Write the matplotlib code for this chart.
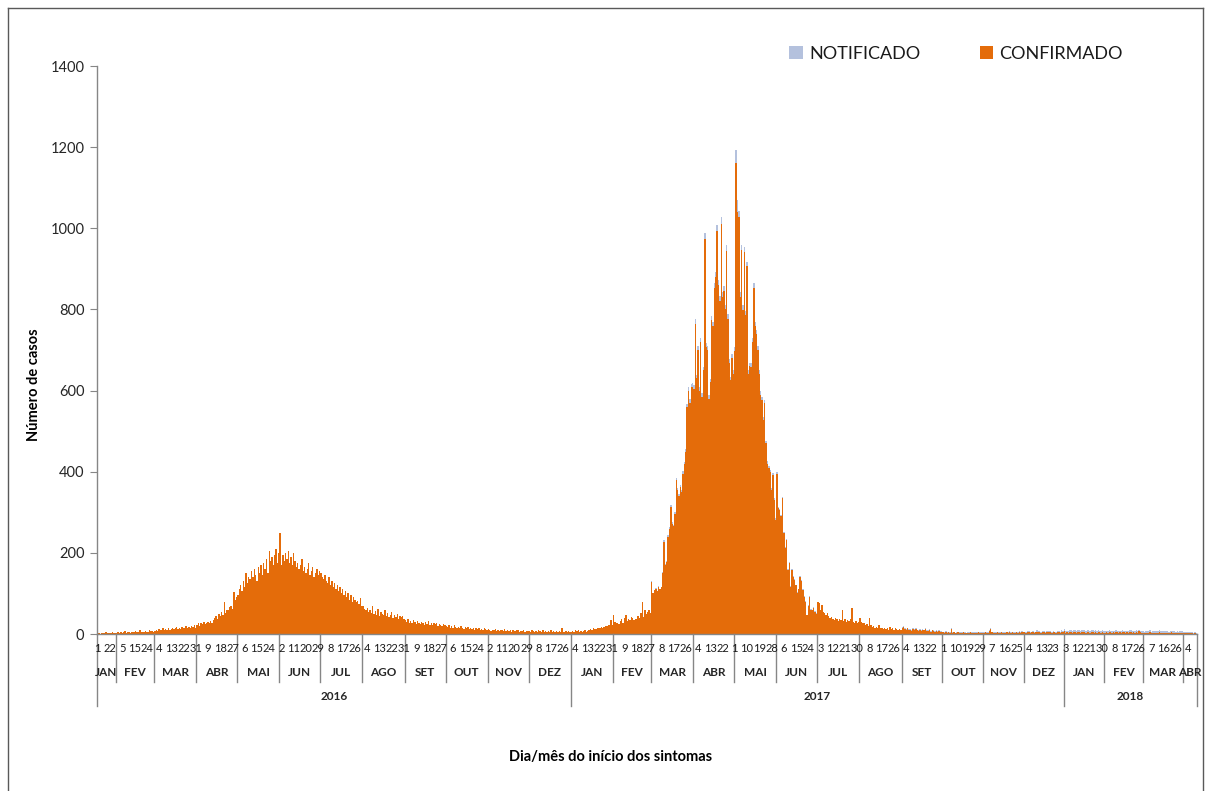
import matplotlib
matplotlib.use('Agg')
import matplotlib.pyplot as plt
import matplotlib.transforms as mtransforms
from matplotlib.lines import Line2D
import pandas as pd

plt.rcParams['font.family'] = ['Lato', 'DejaVu Sans']

# Daily confirmed cases, one list per month
jan_2016 = [2, 3, 1, 2, 3, 2, 4, 2, 3, 2, 3, 4, 3, 2]
feb_2016 = [3, 4, 2, 5, 3, 4, 8, 3, 4, 5, 3, 6, 4, 5, 7, 4, 5, 9, 5, 6, 4, 8, 6, 5, 10, 7, 8, 6]
mar_2016 = [8, 10, 7, 12, 9, 11, 14, 10, 12, 9, 15, 11, 13, 16, 12, 14, 18, 13, 15, 12, 17, 14, 16, 19, 15, 18, 14, 20, 17, 22, 16]
apr_2016 = [22, 26, 20, 28, 25, 30, 24, 27, 29, 26, 32, 28, 35, 40, 45, 38, 50, 44, 55, 48, 80, 52, 60, 58, 66, 70, 62, 104, 85, 90]
may_2016 = [95, 110, 120, 105, 130, 115, 150, 125, 140, 135, 155, 140, 160, 145, 130, 165, 150, 170, 145, 175, 160, 185, 150, 205, 180, 190, 170, 195, 210, 175, 200]
jun_2016 = [250, 170, 195, 180, 200, 185, 205, 175, 190, 170, 200, 180, 165, 175, 160, 170, 185, 155, 165, 150, 160, 175, 145, 155, 165, 140, 150, 160, 145, 155]
jul_2016 = [150, 140, 135, 145, 130, 125, 140, 120, 130, 115, 125, 110, 120, 105, 115, 100, 110, 95, 105, 90, 100, 85, 95, 80, 90, 85, 78, 82, 75, 88, 70]
aug_2016 = [70, 62, 58, 65, 55, 60, 52, 68, 50, 57, 48, 62, 45, 55, 50, 47, 58, 44, 52, 42, 48, 55, 40, 46, 43, 50, 38, 45, 41, 44, 36]
sep_2016 = [35, 30, 38, 28, 32, 26, 34, 30, 25, 33, 28, 24, 30, 27, 22, 29, 25, 32, 23, 27, 21, 26, 24, 28, 20, 25, 22, 19, 24, 21]
oct_2016 = [20, 18, 22, 16, 19, 15, 21, 17, 14, 18, 16, 20, 15, 13, 17, 14, 18, 12, 16, 13, 15, 11, 14, 12, 16, 10, 13, 11, 14, 12, 10]
nov_2016 = [12, 10, 8, 11, 9, 13, 8, 10, 7, 11, 9, 8, 12, 7, 10, 8, 9, 6, 11, 8, 7, 9, 10, 6, 8, 7, 9, 6, 8, 7]
dec_2016 = [8, 6, 9, 7, 5, 8, 6, 10, 7, 5, 9, 6, 8, 5, 7, 6, 9, 5, 7, 6, 8, 5, 7, 6, 14, 6, 5, 8, 6, 7, 5]

jan_2017 = [6, 8, 5, 10, 7, 9, 6, 8, 5, 7, 9, 6, 8, 10, 12, 11, 14, 13, 12, 15, 14, 16, 18, 15, 17, 20, 19, 23, 21, 34, 22]
feb_2017 = [48, 30, 26, 28, 25, 32, 36, 28, 40, 48, 33, 38, 35, 42, 40, 34, 38, 36, 45, 40, 52, 80, 42, 60, 50, 54, 58, 52]
mar_2017 = [129, 100, 108, 112, 105, 117, 110, 115, 150, 227, 170, 178, 240, 260, 313, 272, 265, 297, 379, 354, 340, 362, 350, 395, 420, 448, 559, 600, 570, 608, 610]
apr_2017 = [605, 765, 630, 700, 600, 719, 584, 650, 973, 707, 700, 580, 620, 773, 760, 854, 879, 994, 860, 822, 1011, 830, 846, 800, 944, 777, 669, 625, 681, 642]
may_2017 = [698, 1160, 1040, 1028, 831, 947, 799, 942, 786, 906, 642, 660, 659, 720, 853, 760, 740, 700, 642, 590, 576, 527, 569, 470, 420, 410, 400, 354, 392, 330, 281]
jun_2017 = [395, 310, 305, 290, 334, 248, 211, 231, 158, 175, 117, 158, 141, 133, 120, 101, 110, 141, 130, 108, 92, 80, 47, 70, 92, 60, 59, 65, 55, 50]
jul_2017 = [79, 76, 60, 71, 55, 51, 48, 51, 45, 40, 42, 38, 34, 40, 36, 32, 38, 35, 59, 33, 36, 30, 34, 31, 38, 63, 30, 28, 33, 26, 30]
aug_2017 = [40, 30, 26, 28, 22, 25, 20, 39, 22, 18, 20, 16, 18, 15, 22, 14, 16, 13, 15, 12, 14, 11, 18, 12, 15, 11, 14, 12, 10, 13, 11]
sep_2017 = [15, 18, 12, 10, 14, 9, 11, 8, 13, 10, 12, 9, 8, 11, 7, 10, 9, 12, 8, 7, 10, 6, 9, 8, 6, 7, 5, 8, 6, 5]
oct_2017 = [4, 3, 5, 3, 4, 2, 12, 3, 4, 2, 3, 4, 2, 3, 2, 4, 3, 2, 3, 2, 4, 2, 3, 2, 3, 2, 4, 3, 2, 3]
nov_2017 = [3, 4, 3, 2, 8, 12, 4, 3, 2, 3, 4, 2, 3, 4, 3, 2, 3, 4, 3, 5, 3, 4, 3, 2, 4, 3, 4, 3, 5, 4]
dec_2017 = [4, 3, 5, 4, 3, 4, 5, 3, 4, 6, 4, 5, 3, 4, 5, 3, 4, 5, 6, 4, 3, 5, 4, 3, 5, 4, 3, 6, 4]

jan_2018 = [8, 3, 4, 3, 5, 4, 3, 5, 4, 3, 4, 5, 3, 4, 6, 4, 3, 5, 4, 3, 4, 5, 3, 4, 3, 5, 4, 3, 4, 3]
feb_2018 = [3, 4, 3, 5, 4, 3, 4, 3, 5, 4, 3, 4, 3, 5, 4, 3, 4, 3, 4, 5, 3, 4, 3, 4, 3, 8, 4, 3]
mar_2018 = [3, 2, 3, 2, 3, 4, 2, 3, 2, 3, 2, 3, 4, 2, 3, 2, 3, 2, 3, 2, 3, 4, 2, 3, 2, 3, 2, 3, 2, 3]
apr_2018 = [2, 3, 2, 2, 3, 2, 2, 1, 2, 1]

# Notified but not (yet) confirmed, where the light blue tips are visible
pend_mar_2017 = [1, 2, 1, 2, 1, 2, 2, 1, 3, 4, 2, 3, 4, 3, 5, 4, 3, 4, 6, 5, 4, 5, 4, 6, 5, 7, 8, 9, 8, 9, 8]
pend_apr_2017 = [9, 12, 8, 10, 8, 10, 9, 8, 15, 10, 9, 8, 9, 12, 10, 12, 13, 15, 12, 11, 16, 12, 12, 11, 14, 11, 9, 9, 10, 9]
pend_may_2017 = [10, 32, 29, 14, 12, 13, 11, 13, 11, 12, 9, 9, 9, 10, 12, 10, 10, 9, 8, 8, 8, 7, 8, 6, 6, 5, 5, 5, 5, 4, 4]
pend_jun_2017 = [5, 4, 4, 4, 4, 3, 3, 3, 2, 2, 2, 2, 2, 2, 2, 2, 2, 2, 2, 2, 1, 1, 1, 1, 1, 1, 1, 1, 1, 1]
pend_sep_2017 = [3, 2, 3, 2, 2, 3, 2, 2, 3, 2, 2, 2, 3, 2, 2, 2, 2, 3, 2, 2, 2, 2, 2, 2, 2, 2, 2, 2, 2, 2]
pend_oct_2017 = [2, 2, 2, 1, 2, 2, 3, 2, 2, 1, 2, 2, 2, 1, 2, 2, 2, 1, 2, 2, 2, 2, 1, 2, 2, 2, 1, 2, 2, 2]
pend_nov_2017 = [2, 2, 2, 2, 3, 3, 2, 2, 2, 2, 2, 2, 2, 2, 2, 3, 2, 2, 2, 2, 3, 2, 2, 2, 2, 2, 3, 2, 2, 2]
pend_dec_2017 = [2, 3, 2, 3, 3, 2, 3, 3, 2, 3, 3, 2, 3, 3, 3, 2, 3, 3, 2, 3, 3, 3, 2, 3, 3, 4, 3, 3, 4]
pend_jan_2018 = [4, 5, 4, 5, 4, 5, 5, 4, 5, 4, 5, 5, 4, 5, 4, 5, 4, 5, 5, 4, 5, 4, 5, 5, 4, 5, 4, 5, 5, 4]
pend_feb_2018 = [5, 4, 5, 5, 4, 5, 4, 5, 5, 4, 5, 4, 5, 5, 4, 5, 4, 5, 5, 4, 5, 4, 5, 5, 4, 3, 4, 5]
pend_mar_2018 = [5, 4, 5, 5, 4, 5, 4, 5, 5, 4, 5, 4, 5, 5, 4, 5, 4, 5, 5, 4, 5, 4, 5, 5, 4, 5, 4, 5, 5, 4]
pend_apr_2018 = [4, 3, 4, 4, 3, 4, 3, 2, 3, 2]

month_names = ['JAN', 'FEV', 'MAR', 'ABR', 'MAI', 'JUN', 'JUL', 'AGO', 'SET', 'OUT', 'NOV', 'DEZ']

# categories on the axis (days present in the spreadsheet)
jan16_days = [1, 4, 8, 11, 14, 16, 18, 19, 20, 22, 25, 27, 29, 31]
missing_days = ['2016-02-10', '2017-10-22', '2017-12-17', '2017-12-25', '2018-01-01', '2018-03-20']

dates = [pd.Timestamp(2016, 1, d) for d in jan16_days] + list(pd.date_range('2016-02-01', '2018-04-10'))
dates = [d for d in dates if d.strftime('%Y-%m-%d') not in missing_days]

monthly = {
    (2016, 1): jan_2016, (2016, 2): feb_2016, (2016, 3): mar_2016, (2016, 4): apr_2016,
    (2016, 5): may_2016, (2016, 6): jun_2016, (2016, 7): jul_2016, (2016, 8): aug_2016,
    (2016, 9): sep_2016, (2016, 10): oct_2016, (2016, 11): nov_2016, (2016, 12): dec_2016,
    (2017, 1): jan_2017, (2017, 2): feb_2017, (2017, 3): mar_2017, (2017, 4): apr_2017,
    (2017, 5): may_2017, (2017, 6): jun_2017, (2017, 7): jul_2017, (2017, 8): aug_2017,
    (2017, 9): sep_2017, (2017, 10): oct_2017, (2017, 11): nov_2017, (2017, 12): dec_2017,
    (2018, 1): jan_2018, (2018, 2): feb_2018, (2018, 3): mar_2018, (2018, 4): apr_2018,
}
pending = {
    (2017, 3): pend_mar_2017, (2017, 4): pend_apr_2017, (2017, 5): pend_may_2017,
    (2017, 6): pend_jun_2017, (2017, 9): pend_sep_2017, (2017, 10): pend_oct_2017,
    (2017, 11): pend_nov_2017, (2017, 12): pend_dec_2017, (2018, 1): pend_jan_2018,
    (2018, 2): pend_feb_2018, (2018, 3): pend_mar_2018, (2018, 4): pend_apr_2018,
}

confirmed = []
notified = []
month_start = {}
for key, vals in monthly.items():
    n_cat = sum(1 for d in dates if (d.year, d.month) == key)
    if len(vals) != n_cat:
        raise ValueError(f'{key}: {len(vals)} values for {n_cat} days')
    month_start[key] = len(confirmed)
    extra = pending.get(key, [0] * len(vals))
    confirmed += vals
    notified += [c + p for c, p in zip(vals, extra)]

n = len(dates)
x = [i + 0.5 for i in range(n)]

fig = plt.figure(figsize=(12.05, 7.91), dpi=100)
ax = fig.add_axes([97 / 1205, 1 - 634 / 791, 1100 / 1205, 568 / 791])

ax.bar(x, notified, width=1.0, color='#B4C1DD', linewidth=0, antialiased=False, label='NOTIFICADO')
ax.bar(x, confirmed, width=1.0, color='#E46C0A', linewidth=0, antialiased=False, label='CONFIRMADO')

ax.set_xlim(0, n)
ax.set_ylim(0, 1400)
ax.set_yticks(range(0, 1401, 200))
ax.tick_params(axis='y', length=5, color='#868686', labelsize=10.5, labelcolor='#262626', pad=4)
ax.set_xticks([])
for s in ['top', 'right']:
    ax.spines[s].set_visible(False)
for s in ['left', 'bottom']:
    ax.spines[s].set_color('#868686')
    ax.spines[s].set_linewidth(1.0)

# multi-level category axis
ax_h = 568.0
trans = mtransforms.blended_transform_factory(ax.transData, ax.transAxes)
line_kw = dict(color='#868686', linewidth=1.0, transform=trans, clip_on=False)

for i in range(0, n, 9):
    ax.text(i + 0.5, -14 / ax_h, str(dates[i].day), transform=trans, ha='center', va='center',
            fontsize=8, color='#1a1a1a')

keys = list(monthly.keys())
for k, key in enumerate(keys):
    start = month_start[key]
    end = month_start[keys[k + 1]] if k + 1 < len(keys) else n
    depth = 72 if key[1] == 1 else 48
    ax.plot([start, start], [0, -depth / ax_h], **line_kw)
    ax.text((start + end) / 2, -38 / ax_h, month_names[key[1] - 1], transform=trans,
            ha='center', va='center', fontsize=8.5, fontweight='bold', color='#262626')
ax.plot([n, n], [0, -72 / ax_h], **line_kw)

for year in [2016, 2017, 2018]:
    start = month_start[(year, 1)]
    end = month_start[(year + 1, 1)] if (year + 1, 1) in month_start else n
    ax.text((start + end) / 2, -63 / ax_h, str(year), transform=trans,
            ha='center', va='center', fontsize=8.5, fontweight='bold', color='#262626')

fig.text(34 / 1205, 1 - 385 / 791, 'Número de casos', rotation=90, ha='center', va='center',
         fontsize=10.5, fontweight='bold', color='#000000')
fig.text(611 / 1205, 1 - 757 / 791, 'Dia/mês do início dos sintomas', ha='center', va='center',
         fontsize=10.5, fontweight='bold', color='#000000')

fig.legend(loc='center left', bbox_to_anchor=(780 / 1205, 1 - 54 / 791), ncol=2, frameon=False,
           fontsize=13, handlelength=0.75, handleheight=0.75, handletextpad=0.35,
           columnspacing=3.3, labelcolor='#1a1a1a', borderpad=0)

# outer frame
frame_kw = dict(color='#595959', linewidth=1.0, transform=fig.transFigure)
fig.add_artist(Line2D([8 / 1205, 8 / 1205], [0, 1 - 8 / 791], **frame_kw))
fig.add_artist(Line2D([8 / 1205, 1203 / 1205], [1 - 8 / 791, 1 - 8 / 791], **frame_kw))
fig.add_artist(Line2D([1203 / 1205, 1203 / 1205], [0, 1 - 8 / 791], **frame_kw))

fig.savefig('out.png', dpi=100, facecolor='white')
